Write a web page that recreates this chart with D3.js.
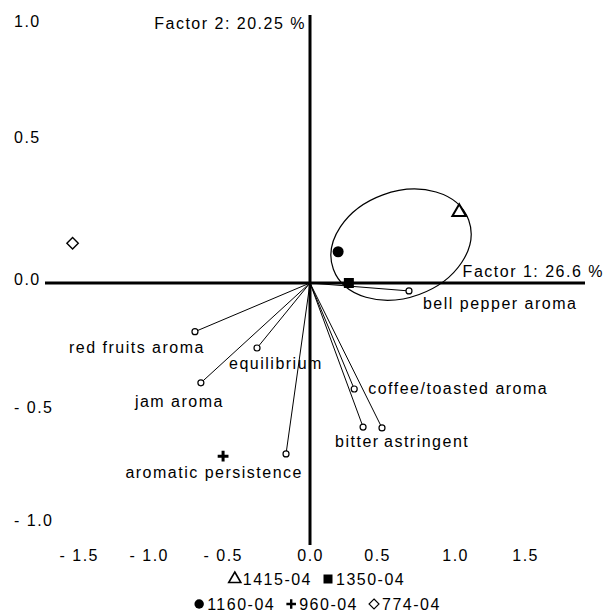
<html>
<head>
    <script src="https://d3js.org/d3.v7.min.js"></script>
    <style>
        body { margin: 0; background: white; }
        text { font-family: "Liberation Sans", Arial, sans-serif; font-size: 16px; letter-spacing: 1.5px; fill: black; }
        .axis { stroke: black; stroke-width: 3px; }
        .vec { stroke: black; stroke-width: 1px; }
        .ell { fill: none; stroke: black; stroke-width: 1.2px; }
    </style>
</head>
<body>
<svg id="biplot" width="606" height="612"></svg>
<script>
    // axis ticks
    const xTickVals = [-1.5, -1, -0.5, 0, 0.5, 1, 1.5];
    const xTickLabels = ["- 1.5", "- 1.0", "- 0.5", "0.0", "0.5", "1.0", "1.5"];
    const yTickVals = [1, 0.5, 0, -0.5, -1];
    const yTickLabels = ["1.0", "0.5", "0.0", "- 0.5", "- 1.0"];
    const factor1Label = "Factor 1: 26.6 %";
    const factor2Label = "Factor 2: 20.25 %";

    // sample scores
    const sampleNames = ["1415-04", "1350-04", "1160-04", "960-04", "774-04"];
    const sampleF1 = [1.03, 0.29, 0.21, -0.54, -1.59];
    const sampleF2 = [0.25, 0.00, 0.11, -0.70, 0.14];

    // attribute loadings
    const attrNames = ["bell pepper aroma", "red fruits aroma", "equilibrium", "jam aroma",
        "aromatic persistence", "coffee/toasted aroma", "bitter", "astringent"];
    const attrF1 = [0.705, -0.73, -0.327, -0.69, -0.148, 0.33, 0.396, 0.532];
    const attrF2 = [-0.031, -0.19, -0.254, -0.39, -0.69, -0.414, -0.571, -0.575];

    // group ellipse (centre in factor units)
    const ellipseF1 = 0.654;
    const ellipseF2 = 0.135;

    const svg = d3.select("#biplot");

    // the original plot spaces its tick labels unevenly, so the scales are piecewise
    const x = d3.scaleLinear()
        .domain([-1.79, -1.5, -1, -0.5, 0, 0.5, 1, 1.5, 1.93])
        .range([45, 85, 155, 229, 310, 377, 455, 525, 585]);
    const y = d3.scaleLinear()
        .domain([1.047, 1, 0.5, 0, -0.5, -1, -1.095])
        .range([15, 25, 141, 283, 411, 524, 545]);

    // axes
    svg.append("line").attr("class", "axis")
        .attr("x1", x(-1.79)).attr("x2", x(1.93))
        .attr("y1", y(0)).attr("y2", y(0));
    svg.append("line").attr("class", "axis")
        .attr("x1", x(0)).attr("x2", x(0))
        .attr("y1", y(1.047)).attr("y2", y(-1.095));

    svg.selectAll("text.xt").data(xTickVals)
        .join("text").attr("class", "xt")
        .attr("x", d => x(d) + 14)
        .attr("y", 561)
        .attr("text-anchor", "end")
        .text((d, i) => xTickLabels[i]);

    svg.selectAll("text.yt").data(yTickVals)
        .join("text").attr("class", "yt")
        .attr("x", 14)
        .attr("y", d => y(d) + 2)
        .text((d, i) => yTickLabels[i]);

    svg.append("text").attr("x", 306).attr("y", 29)
        .attr("text-anchor", "end").text(factor2Label);
    svg.append("text").attr("x", 604).attr("y", 277)
        .attr("text-anchor", "end").text(factor1Label);

    // ellipse round the right-hand group
    svg.append("ellipse").attr("class", "ell")
        .attr("rx", 72).attr("ry", 53)
        .attr("transform", `translate(${x(ellipseF1)},${y(ellipseF2)}) rotate(-20)`);

    // loading vectors
    const attrs = attrNames.map((n, i) => ({ name: n, f1: attrF1[i], f2: attrF2[i] }));
    svg.selectAll("line.vec").data(attrs)
        .join("line").attr("class", "vec")
        .attr("x1", x(0)).attr("y1", y(0))
        .attr("x2", d => x(d.f1)).attr("y2", d => y(d.f2));
    svg.selectAll("circle.tip").data(attrs)
        .join("circle").attr("class", "tip")
        .attr("cx", d => x(d.f1)).attr("cy", d => y(d.f2))
        .attr("r", 3)
        .attr("fill", "white").attr("stroke", "black").attr("stroke-width", 1.2);

    // label placement: [anchor, dx, dy to baseline]
    const labelPlace = [
        ["start", 14, 18], ["end", 10, 21], ["start", -28, 21], ["start", -66, 24],
        ["end", 17, 24], ["start", 14, 5], ["start", -28, 20], ["start", 2, 19]
    ];
    svg.selectAll("text.lab").data(attrs)
        .join("text").attr("class", "lab")
        .attr("x", (d, i) => x(d.f1) + labelPlace[i][1])
        .attr("y", (d, i) => y(d.f2) + labelPlace[i][2])
        .attr("text-anchor", (d, i) => labelPlace[i][0])
        .text(d => d.name);

    // sample markers
    const diamond = { draw(ctx, size) { const r = Math.sqrt(size) / 2; ctx.moveTo(0, -r); ctx.lineTo(r, 0); ctx.lineTo(0, r); ctx.lineTo(-r, 0); ctx.closePath(); } };
    const markStyle = [
        { type: d3.symbolTriangle, size: 80, fill: "white", stroke: 2 },
        { type: d3.symbolSquare, size: 100, fill: "black", stroke: 0 },
        { type: d3.symbolCircle, size: 95, fill: "black", stroke: 0 },
        { type: d3.symbolPlus, size: 40, fill: "none", stroke: 3 },
        { type: diamond, size: 130, fill: "white", stroke: 1.4 }
    ];
    const legendStyle = [
        { size: 64 }, { size: 81 }, { size: 70 }, { size: 32 }, { size: 100 }
    ];
    const samples = sampleNames.map((n, i) => ({ name: n, f1: sampleF1[i], f2: sampleF2[i], i: i }));

    svg.selectAll("path.samp").data(samples)
        .join("path").attr("class", "samp")
        .attr("transform", d => `translate(${x(d.f1)},${y(d.f2)})`)
        .attr("d", d => d3.symbol(markStyle[d.i].type, markStyle[d.i].size)())
        .attr("fill", d => markStyle[d.i].fill)
        .attr("stroke", "black")
        .attr("stroke-width", d => markStyle[d.i].stroke);

    // legend, two centred rows
    const legendRows = [[0, 1], [2, 3, 4]];
    const rowBase = [585, 610];
    legendRows.forEach((row, r) => {
        const g = svg.append("g");
        let cursor = 0;
        row.forEach(k => {
            g.append("path")
                .attr("transform", `translate(${cursor + 6},${rowBase[r] - 6})`)
                .attr("d", d3.symbol(markStyle[k].type, legendStyle[k].size)())
                .attr("fill", markStyle[k].fill)
                .attr("stroke", "black")
                .attr("stroke-width", markStyle[k].stroke * 0.8);
            const t = g.append("text").attr("x", cursor + 14).attr("y", rowBase[r]).text(sampleNames[k]);
            cursor += 14 + t.node().getComputedTextLength() + 10;
        });
        const w = cursor - 10;
        g.attr("transform", `translate(${317 - w / 2},0)`);
    });
</script>
</body>
</html>
